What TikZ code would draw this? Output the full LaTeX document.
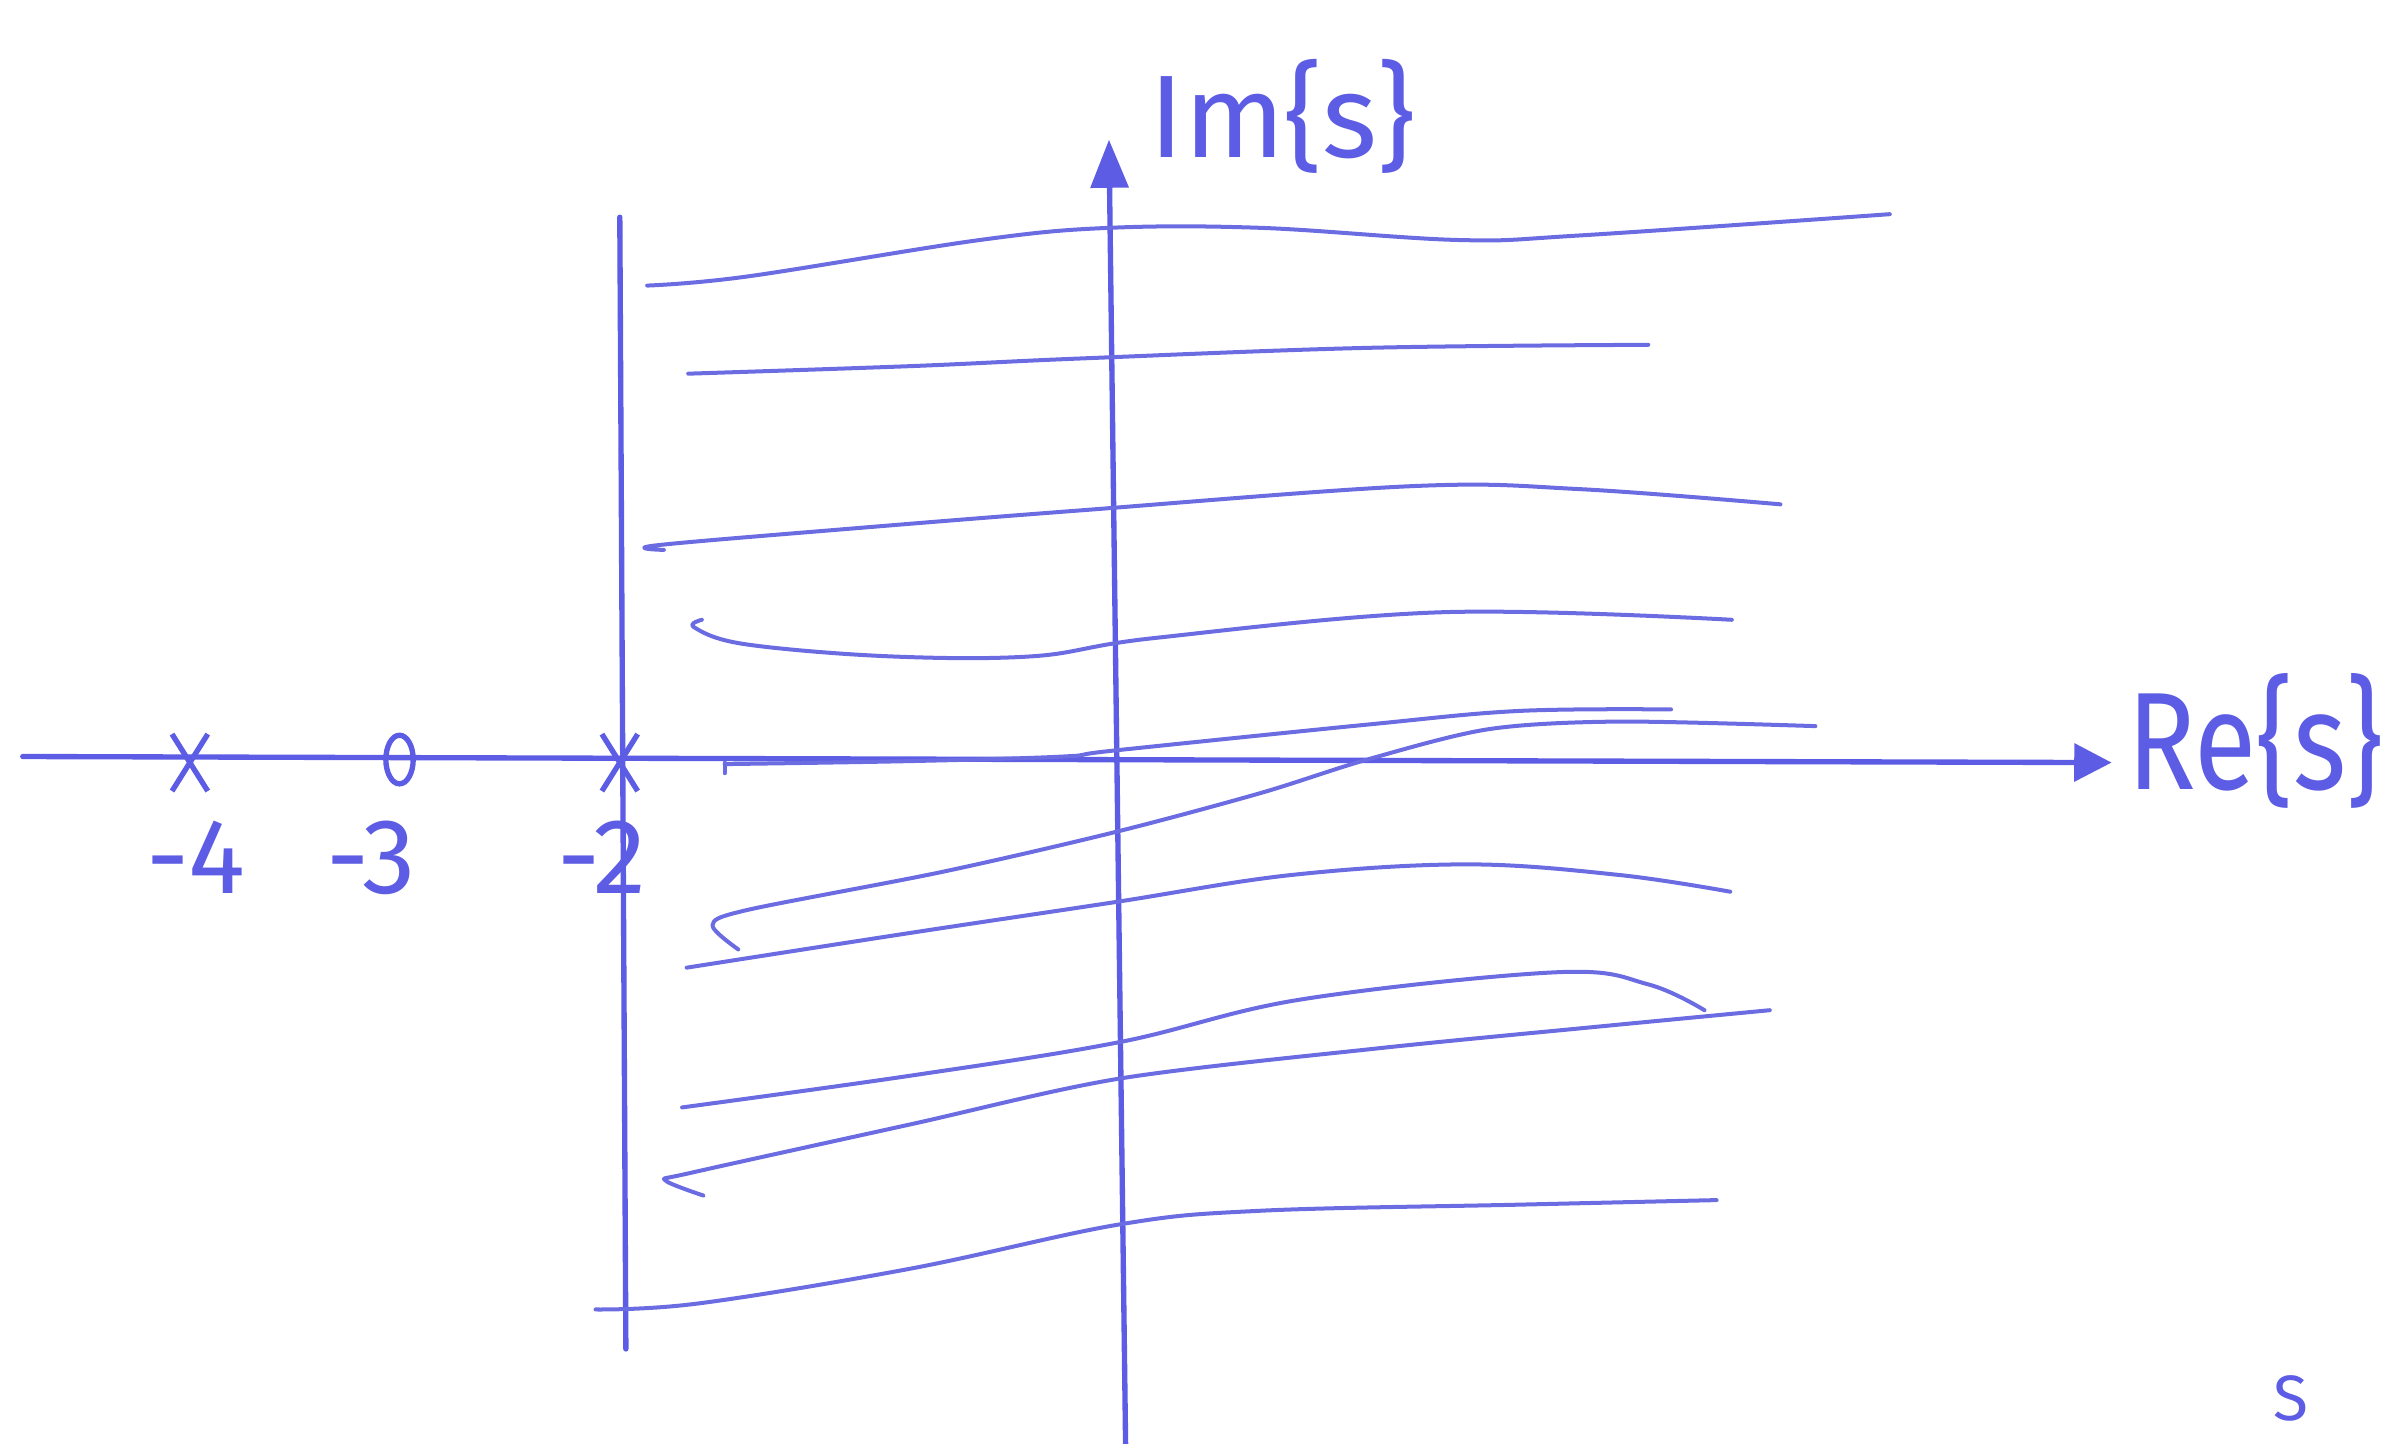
\documentclass[tikz,border=0pt]{standalone}
\usepackage{fontspec}
\setmainfont{Fira Sans}
\usetikzlibrary{arrows.meta,shapes.misc,shapes.geometric}
\definecolor{pen}{RGB}{92,92,228}
\definecolor{penlight}{RGB}{108,108,226}
\tikzset{
  axisline/.style={draw=pen,line width=1pt,line cap=round},
  curveline/.style={draw=penlight,line width=0.75pt,line cap=round,line join=round},
  polemark/.style={cross out,draw=pen,line width=1pt,minimum width=2mm,minimum height=3.4mm,inner sep=0pt},
  zeromark/.style={ellipse,draw=pen,line width=1pt,minimum width=1.8mm,minimum height=3.2mm,inner sep=0pt},
  lbl/.style={text=pen,inner sep=0pt},
  imtip/.style={-{Triangle[length=9pt,width=7pt]}},
  retip/.style={-{Triangle[length=7pt,width=7pt]}}
}
\begin{document}
\begin{tikzpicture}[x=0.1mm,y=-0.1mm]
\useasboundingbox (0,0) rectangle (1568,950);
% axes
\coordinate (reL) at (15,498);
\coordinate (reR) at (1390,502);
\coordinate (imB) at (741,955);
\coordinate (imT) at (730,92);
\coordinate (vT) at (408,143);
\coordinate (vB) at (412,888);
\draw[axisline,retip] (reL) -- (reR);
\draw[axisline,imtip] (imB) -- (imT);
\draw[axisline] (vT) -- (vB);
% labels
\node[lbl,anchor=base west,font=\fontsize{22}{26}\selectfont] (imlabel) at (756,104) {Im\{s\}};
\node[lbl,anchor=base west,font=\fontsize{26}{30}\selectfont,xscale=0.82] (relabel) at (1400,520) {Re\{s\}};
\node[lbl,anchor=base west,font=\fontsize{20}{24}\selectfont] (m4) at (96,588) {-4};
\node[lbl,anchor=base west,font=\fontsize{20}{24}\selectfont] (m3) at (214,588) {-3};
\node[lbl,anchor=base west,font=\fontsize{20}{24}\selectfont] (m2) at (366,588) {-2};
% poles and zero
\node[polemark] (p4) at (125,502) {};
\node[polemark] (p2) at (408,502) {};
\node[zeromark] (z3) at (263,500) {};
% bottom-right letter
\node[lbl,anchor=base west,font=\fontsize{12}{14}\selectfont] (cut) at (1496,935) {S};
% hand-drawn curves
\draw[curveline] plot[smooth,tension=0.6] coordinates {(426,188) (492,182) (645,158) (730,150) (830,150) (960,158) (1040,155) (1244,141)};
\draw[curveline] plot[smooth,tension=0.6] coordinates {(453,246) (600,241) (711,236) (900,229) (1085,227)};
\draw[curveline] plot[smooth,tension=0.6] coordinates {(437,362) (432,359) (560,348) (711,336) (930,320) (1040,322) (1172,332)};
\draw[curveline] plot[smooth,tension=0.6] coordinates {(462,408) (457,413) (490,424) (584,432) (680,432) (760,420) (950,403) (1140,408)};
\draw[curveline] (477,509) -- (477,502);
\draw[curveline] plot[smooth,tension=0.6] coordinates {(477,503) (600,501) (700,498) (734,494) (900,477) (1000,468) (1100,467)};
\draw[curveline] plot[smooth,tension=0.5] coordinates {(486,625) (469,609) (492,599) (620,574) (733,548) (830,522) (900,500) (980,480) (1066,475) (1195,478)};
\draw[curveline] plot[smooth,tension=0.6] coordinates {(452,637) (600,614) (733,594) (850,576) (966,569) (1066,576) (1139,587)};
\draw[curveline] plot[smooth,tension=0.6] coordinates {(449,729) (600,708) (737,686) (856,658) (1025,640) (1085,648) (1122,665)};
\draw[curveline] plot[smooth,tension=0.5] coordinates {(463,787) (438,777) (455,772) (600,740) (737,710) (908,690) (1050,676) (1165,665)};
\draw[curveline] plot[smooth,tension=0.6] coordinates {(392,862) (460,858) (600,835) (737,806) (830,797) (1000,793) (1130,790)};
\end{tikzpicture}
\end{document}
